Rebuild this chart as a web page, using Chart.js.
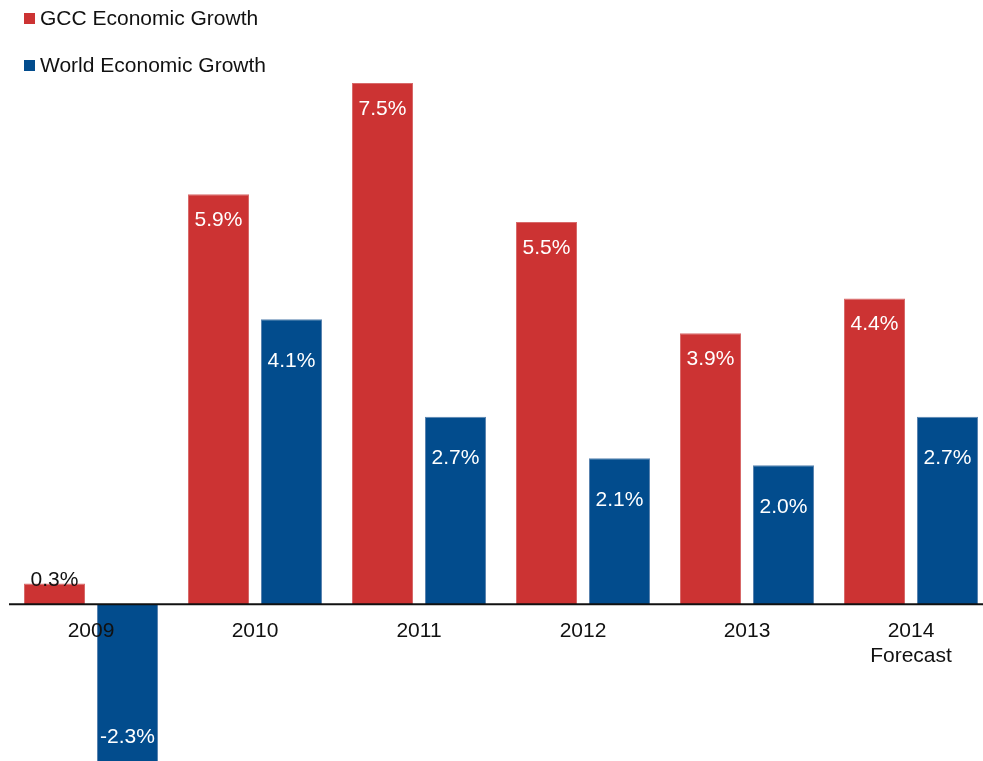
<!DOCTYPE html>
<html>
<head>
<meta charset="utf-8">
<script src="https://cdn.jsdelivr.net/npm/chart.js@4"></script>
<style>
  html, body { margin: 0; padding: 0; background: #fff; overflow: hidden; }
  #wrap { position: relative; width: 1000px; height: 761px; }
  #legend { position: absolute; left: 24px; top: 0; font-family: "Liberation Sans", Arial, sans-serif; font-size: 21px; color: #111; }
  .item { position: absolute; white-space: nowrap; left: 0; height: 24px; line-height: 24px; }
  .item span { display: inline-block; width: 11px; height: 11px; margin-right: 5px; vertical-align: 1px; }
</style>
</head>
<body>
<div id="wrap">
  <canvas id="growthChart" width="1000" height="761"></canvas>
  <div id="legend"></div>
</div>
<script>
const years = [['2009'], ['2010'], ['2011'], ['2012'], ['2013'], ['2014', 'Forecast']];
const gccGrowth = [0.3, 5.9, 7.5, 5.5, 3.9, 4.4];
const worldGrowth = [-2.3, 4.1, 2.7, 2.1, 2.0, 2.7];
const seriesNames = ['GCC Economic Growth', 'World Economic Growth'];
const seriesColors = ['#cc3333', '#024c8d'];

// 凡例（縦に2行）
const legendEl = document.getElementById('legend');
seriesNames.forEach((name, i) => {
    const div = document.createElement('div');
    div.className = 'item';
    div.style.top = (6 + i * 47) + 'px';
    div.innerHTML = '<span style="background:' + seriesColors[i] + '"></span>' + name;
    legendEl.appendChild(div);
});

const FONT = '21px "Liberation Sans", Arial, sans-serif';

// ゼロの線と年のラベル
const zeroAxis = {
    id: 'zeroAxis',
    afterDatasetsDraw(chart) {
        const { ctx, chartArea, scales } = chart;
        const y0 = scales.y.getPixelForValue(0);
        ctx.save();
        ctx.strokeStyle = '#111';
        ctx.lineWidth = 2;
        ctx.beginPath();
        ctx.moveTo(chartArea.left, y0);
        ctx.lineTo(chartArea.right, y0);
        ctx.stroke();

        ctx.font = FONT;
        ctx.fillStyle = '#111';
        ctx.textAlign = 'center';
        ctx.textBaseline = 'middle';
        years.forEach((lines, i) => {
            const x = scales.x.getPixelForValue(i);
            lines.forEach((t, j) => ctx.fillText(t, x, y0 + 27 + j * 25));
        });
        ctx.restore();
    }
};

// 棒の中の数値
const valueLabels = {
    id: 'valueLabels',
    afterDatasetsDraw(chart) {
        const { ctx } = chart;
        ctx.save();
        ctx.font = FONT;
        ctx.textAlign = 'center';
        ctx.textBaseline = 'middle';
        chart.data.datasets.forEach((ds, di) => {
            chart.getDatasetMeta(di).data.forEach((bar, i) => {
                const v = ds.data[i];
                const text = v.toFixed(1) + '%';
                const h = Math.abs(bar.base - bar.y);
                let y;
                ctx.fillStyle = '#fff';
                if (v < 0) {
                    y = bar.y - 27;
                } else if (h < 30) {
                    ctx.fillStyle = '#111';
                    y = bar.y - 3;
                } else {
                    y = bar.y + (di === 0 ? 26 : 42);
                }
                ctx.fillText(text, bar.x, y);
            });
        });
        ctx.restore();
    }
};

const ctx = document.getElementById('growthChart').getContext('2d');
new Chart(ctx, {
    type: 'bar',
    data: {
        labels: years.map(l => l.join(' ')),
        datasets: [
            {
                label: seriesNames[0],
                data: gccGrowth,
                backgroundColor: seriesColors[0],
                borderColor: '#d86a6a',
                borderWidth: 1
            },
            {
                label: seriesNames[1],
                data: worldGrowth,
                backgroundColor: seriesColors[1],
                borderColor: '#5a84b0',
                borderWidth: 1
            }
        ]
    },
    options: {
        responsive: false,
        animation: false,
        categoryPercentage: 0.89,
        barPercentage: 0.836,
        layout: { padding: { left: 9, right: 7, top: 0, bottom: 0 } },
        scales: {
            x: { display: false },
            y: { display: false, min: -2.255, max: 8.695 }
        },
        plugins: {
            legend: { display: false },
            tooltip: { enabled: false }
        }
    },
    plugins: [zeroAxis, valueLabels]
});
</script>
</body>
</html>
